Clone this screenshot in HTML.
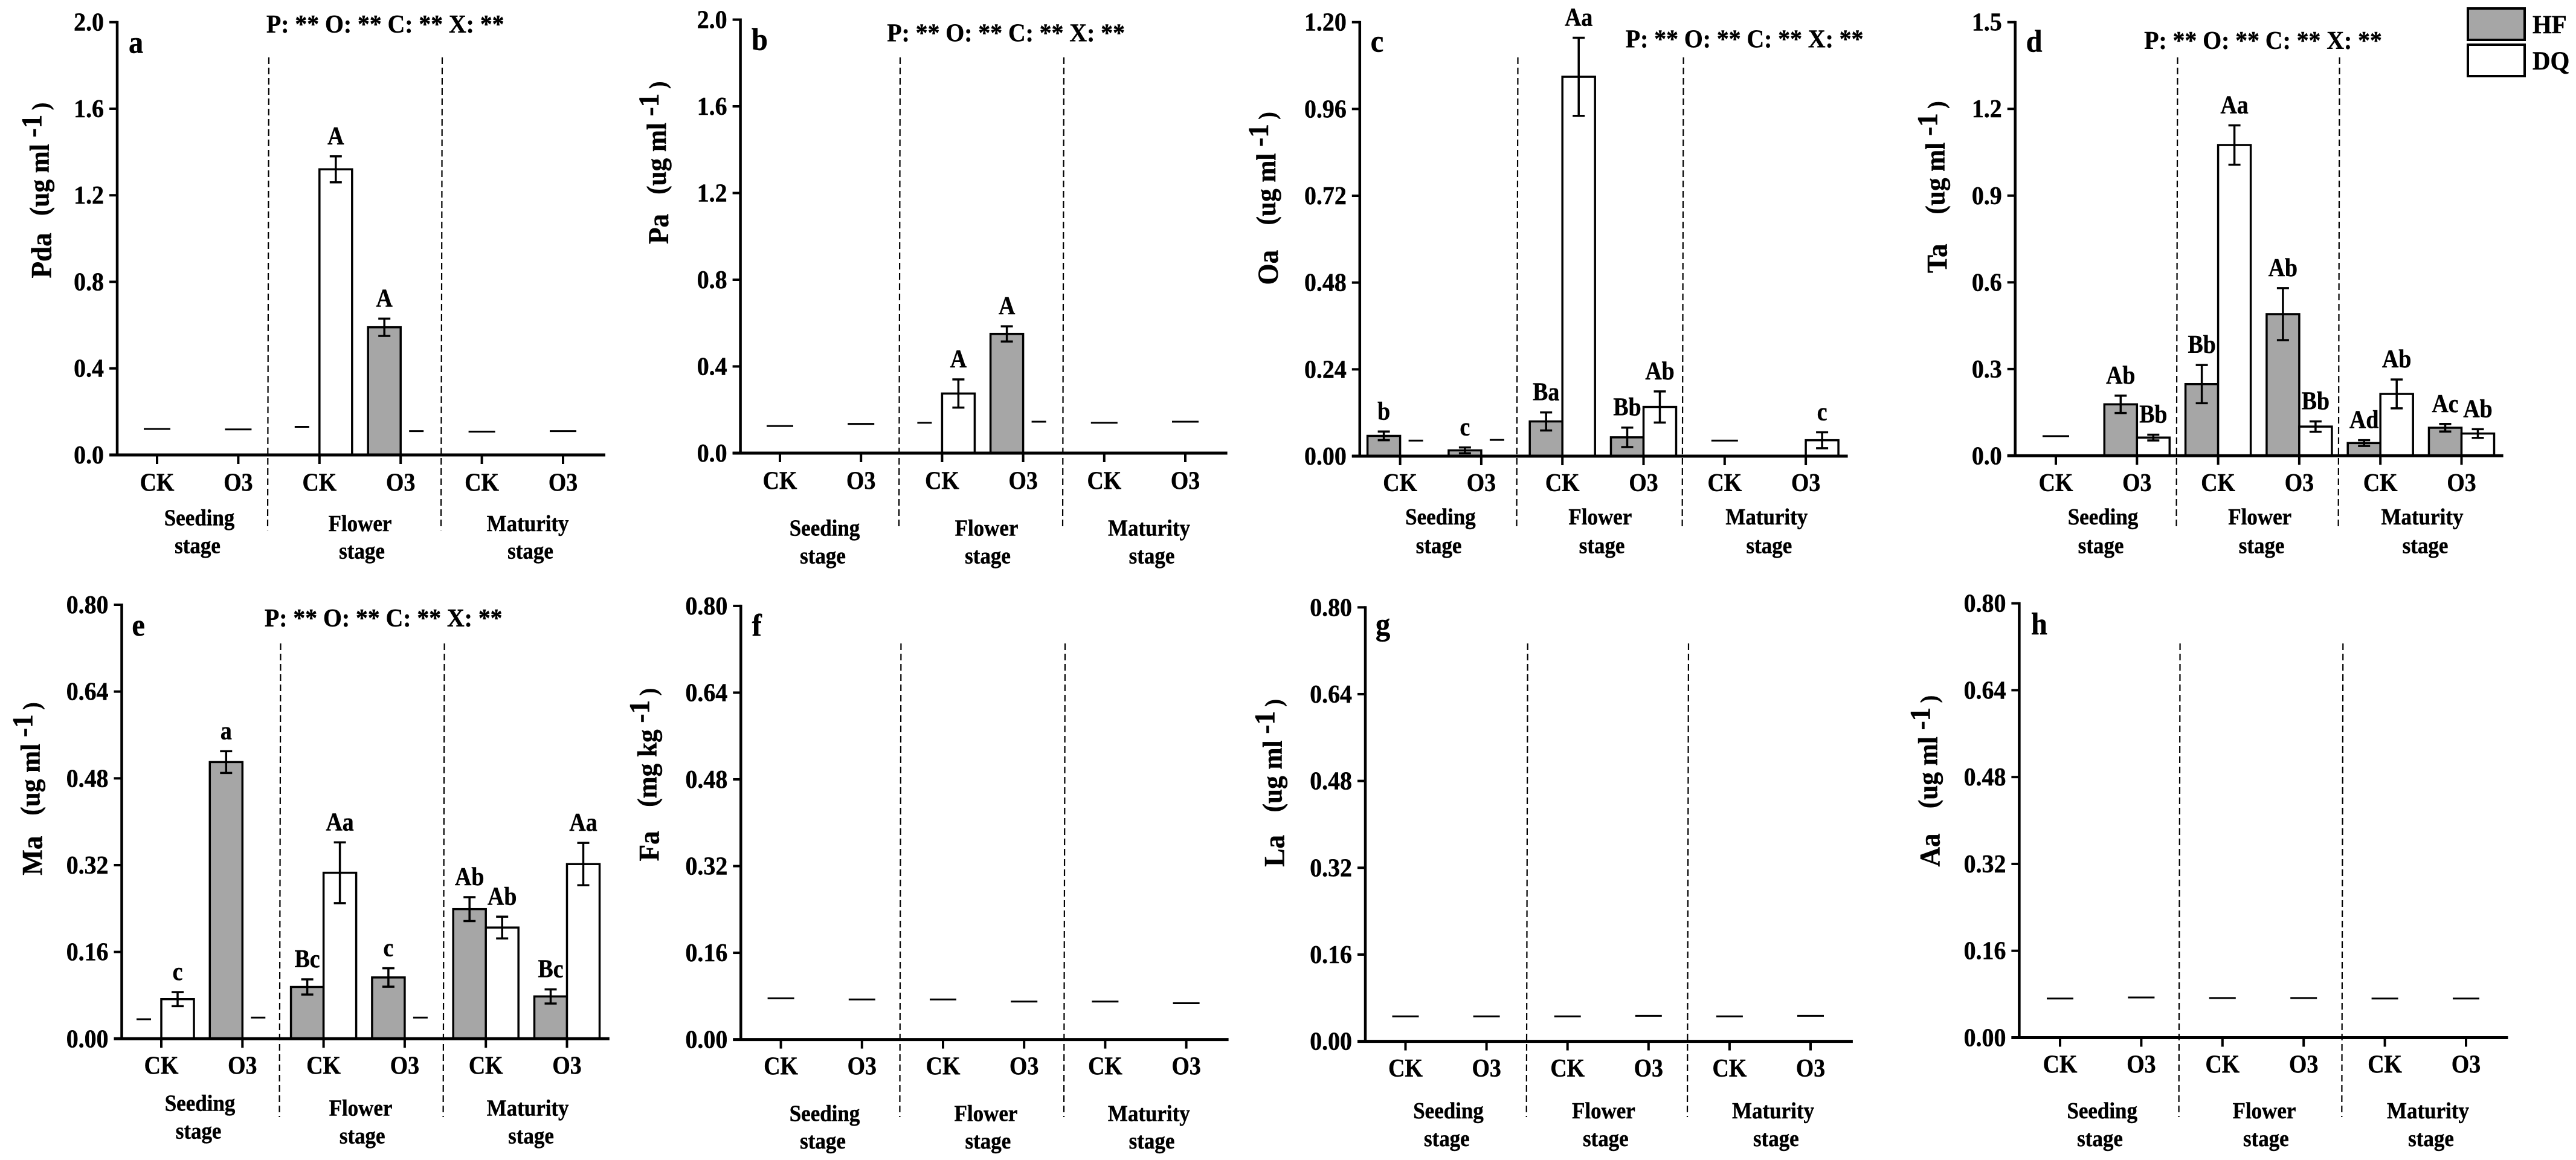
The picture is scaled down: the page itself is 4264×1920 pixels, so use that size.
<!DOCTYPE html>
<html lang="en">
<head>
<meta charset="utf-8">
<title>Organic acid concentrations by stage and treatment</title>
<style>
html,body{margin:0;padding:0;background:#fff;}
svg{display:block;}
text{font-family:"Liberation Serif",serif;font-weight:bold;fill:#000;stroke:#000;stroke-width:.5px;}
</style>
</head>
<body>
<svg id="figure" xmlns="http://www.w3.org/2000/svg" width="4264" height="1920" viewBox="0 0 4264 1920">
  <rect x="0" y="0" width="4264" height="1920" fill="#fff"/>
  <g>
    <rect x="4085" y="14" width="94" height="52" fill="#a6a6a6" stroke="#000" stroke-width="4"/>
    <rect x="4085" y="74" width="94" height="52" fill="#fff" stroke="#000" stroke-width="4"/>
    <text transform="translate(4192 55) scale(.95 1)" font-size="43">HF</text>
    <text transform="translate(4192 115) scale(.95 1)" font-size="43">DQ</text>
  </g>
</svg>
<script>
const categories = ['CK','O3','CK','O3','CK','O3'];
const stageNames = ['Seeding','Flower','Maturity'];
const annotationText = 'P: ** O: ** C: ** X: **';

const ticks2 = ['0.0','0.4','0.8','1.2','1.6','2.0'];
const ticks12 = ['0.00','0.24','0.48','0.72','0.96','1.20'];
const ticks15 = ['0.0','0.3','0.6','0.9','1.2','1.5'];
const ticks08 = ['0.00','0.16','0.32','0.48','0.64','0.80'];

const aHf = [null,null,null,0.59,null,null];
const aHfErr = [null,null,null,0.04,null,null];
const aDq = [null,null,1.32,null,null,null];
const aDqErr = [null,null,0.06,null,null,null];
const aHfDash = [null,null,0.13,null,null,null];
const aDqDash = [null,null,null,0.11,null,null];
const aMidDash = [0.12,0.118,null,null,0.108,0.11];
const aHfLabel = [null,null,null,'A',null,null];
const aDqLabel = [null,null,'A',null,null,null];

const bHf = [null,null,null,0.55,null,null];
const bHfErr = [null,null,null,0.035,null,null];
const bDq = [null,null,0.275,null,null,null];
const bDqErr = [null,null,0.065,null,null,null];
const bHfDash = [null,null,0.14,null,null,null];
const bDqDash = [null,null,null,0.145,null,null];
const bMidDash = [0.125,0.135,null,null,0.14,0.145];
const bHfLabel = [null,null,null,'A',null,null];
const bDqLabel = [null,null,'A',null,null,null];

const cHf = [0.056,0.016,0.096,0.052,null,null];
const cHfErr = [0.012,0.008,0.025,0.027,null,null];
const cDq = [null,null,1.049,0.136,null,0.044];
const cDqErr = [null,null,0.108,0.043,null,0.022];
const cHfDash = [null,null,null,null,null,null];
const cDqDash = [0.043,0.045,null,null,null,null];
const cMidDash = [null,null,null,null,0.043,null];
const cHfLabel = ['b','c','Ba','Bb',null,null];
const cDqLabel = [null,null,'Aa','Ab',null,'c'];

const dHf = [null,0.178,0.248,0.49,0.044,0.097];
const dHfErr = [null,0.03,0.066,0.09,0.01,0.013];
const dDq = [null,0.063,1.075,0.101,0.214,0.077];
const dDqErr = [null,0.01,0.068,0.018,0.05,0.015];
const dHfDash = [null,null,null,null,null,null];
const dDqDash = [null,null,null,null,null,null];
const dMidDash = [0.068,null,null,null,null,null];
const dHfLabel = [null,'Ab','Bb','Ab','Ad','Ac'];
const dDqLabel = [null,'Bb','Aa','Bb','Ab','Ab'];

const eHf = [null,0.51,0.0955,0.113,0.239,0.078];
const eHfErr = [null,0.02,0.014,0.017,0.022,0.013];
const eDq = [0.073,null,0.306,null,0.205,0.322];
const eDqErr = [0.013,null,0.056,null,0.02,0.039];
const eHfDash = [0.036,null,null,null,null,null];
const eDqDash = [null,0.039,null,0.039,null,null];
const eMidDash = [null,null,null,null,null,null];
const eHfLabel = [null,'a','Bc','c','Ab','Bc'];
const eDqLabel = ['c',null,'Aa',null,'Ab','Aa'];

const emptySlots = [null,null,null,null,null,null];
const fMidDash = [0.076,0.074,0.074,0.07,0.07,0.067];
const gMidDash = [0.046,0.046,0.046,0.047,0.046,0.047];
const hMidDash = [0.072,0.074,0.073,0.073,0.072,0.072];

const panels = [
 {letter:'a',name:'Pda',unit:'(ug ml ',max:2,yTicks:ticks2,hf:aHf,hfErr:aHfErr,dq:aDq,dqErr:aDqErr,hfDash:aHfDash,dqDash:aDqDash,midDash:aMidDash,hfLabel:aHfLabel,dqLabel:aDqLabel,
  axisX:194,y0:753,yTop:36.7,x0:260,dx:134.4,right:1002,div:[445,732],divTop:95,divBot:877.5,letterPos:[213,87.6],annot:[441,54],titleX:84.5,titleBot:460.5,gap:30,xLab:812.6,
  stageX:[[330,327],[596,599],[873.6,878]],stageY:[[869.6,915.5],[878.8,924.7],[878.8,924.7]]},
 {letter:'b',name:'Pa',unit:'(ug ml ',max:2,yTicks:ticks2,hf:bHf,hfErr:bHfErr,dq:bDq,dqErr:bDqErr,hfDash:bHfDash,dqDash:bDqDash,midDash:bMidDash,hfLabel:bHfLabel,dqLabel:bDqLabel,
  axisX:1225.6,y0:750,yTop:32.5,x0:1291,dx:134.2,right:2031.6,div:[1490,1761],divTop:95,divBot:877,letterPos:[1244,82.7],annot:[1468.4,68.6],titleX:1106,titleBot:404,gap:34,xLab:809.5,
  stageX:[[1365,1362],[1633,1635],[1902,1906.5]],stageY:[[886.7,932.6],[886.7,932.6],[886.7,932.6]]},
 {letter:'c',name:'Oa',unit:'(ug ml ',max:1.2,yTicks:ticks12,hf:cHf,hfErr:cHfErr,dq:cDq,dqErr:cDqErr,hfDash:cHfDash,dqDash:cDqDash,midDash:cMidDash,hfLabel:cHfLabel,dqLabel:cDqLabel,
  axisX:2250.8,y0:755,yTop:36.7,x0:2317.6,dx:134.3,right:3058.6,div:[2512.5,2786.6],divTop:95,divBot:877,letterPos:[2268.7,85.7],annot:[2690.9,78.4],titleX:2115,titleBot:471.5,gap:44,xLab:813,
  stageX:[[2384.4,2381.6],[2648.8,2651.6],[2924.3,2928.4]],stageY:[[868,915.5],[868,915.5],[868,915.5]]},
 {letter:'d',name:'Ta',unit:'(ug ml ',max:1.5,yTicks:ticks15,hf:dHf,hfErr:dHfErr,dq:dDq,dqErr:dDqErr,hfDash:dHfDash,dqDash:dDqDash,midDash:dMidDash,hfLabel:dHfLabel,dqLabel:dDqLabel,
  axisX:3335.7,y0:754.4,yTop:36.7,x0:3403,dx:134.3,right:4143.6,div:[3604.5,3872.6],divTop:95,divBot:877,letterPos:[3353.6,85.7],annot:[3549.3,80.8],titleX:3222.4,titleBot:452,gap:52,xLab:813,
  stageX:[[3481,3477.6],[3740.7,3743.6],[4009.5,4014.5]],stageY:[[868,915.5],[868,915.5],[868,915.5]]},
 {letter:'e',name:'Ma',unit:'(ug ml ',max:0.8,yTicks:ticks08,hf:eHf,hfErr:eHfErr,dq:eDq,dqErr:eDqErr,hfDash:eHfDash,dqDash:eDqDash,midDash:eMidDash,hfLabel:eHfLabel,dqLabel:eDqLabel,
  axisX:201.5,y0:1719.3,yTop:1001,x0:267,dx:134.3,right:1008.8,div:[464.5,735.6],divTop:1065,divBot:1849,letterPos:[218.4,1051.9],annot:[438,1037],titleX:69.6,titleBot:1448.7,gap:36,xLab:1777.5,
  stageX:[[331,328.6],[597,599.7],[873.6,879]],stageY:[[1838.7,1884.7],[1846.7,1892.6],[1846.7,1892.6]]},
 {letter:'f',name:'Fa',unit:'(mg kg ',max:0.8,yTicks:ticks08,hf:emptySlots,hfErr:emptySlots,dq:emptySlots,dqErr:emptySlots,hfDash:emptySlots,dqDash:emptySlots,midDash:fMidDash,hfLabel:emptySlots,dqLabel:emptySlots,
  axisX:1226.3,y0:1720.6,yTop:1002.9,x0:1292.6,dx:134.2,right:2033.6,div:[1491.4,1763],divTop:1065,divBot:1849,letterPos:[1244.6,1052],annot:null,titleX:1090.4,titleBot:1425.4,gap:42,xLab:1778.7,
  stageX:[[1365,1362],[1632,1635.4],[1901.8,1906.5]],stageY:[[1855.3,1901],[1855.3,1901],[1855.3,1901]]},
 {letter:'g',name:'La',unit:'(ug ml ',max:0.8,yTicks:ticks08,hf:emptySlots,hfErr:emptySlots,dq:emptySlots,dqErr:emptySlots,hfDash:emptySlots,dqDash:emptySlots,midDash:gMidDash,hfLabel:emptySlots,dqLabel:emptySlots,
  axisX:2260,y0:1723.6,yTop:1005.3,x0:2326.5,dx:134.1,right:3066.9,div:[2528.7,2795],divTop:1065,divBot:1849,letterPos:[2277,1050.6],annot:null,titleX:2125.7,titleBot:1434.6,gap:40,xLab:1781.8,
  stageX:[[2397.5,2394.8],[2654.4,2657.8],[2935,2939.8]],stageY:[[1851,1897],[1851,1897],[1851,1897]]},
 {letter:'h',name:'Aa',unit:'(ug ml ',max:0.8,yTicks:ticks08,hf:emptySlots,hfErr:emptySlots,dq:emptySlots,dqErr:emptySlots,hfDash:emptySlots,dqDash:emptySlots,midDash:hMidDash,hfLabel:emptySlots,dqLabel:emptySlots,
  axisX:3342.4,y0:1717.5,yTop:998.6,x0:3410,dx:134.4,right:4151.5,div:[3608.6,3878.3],divTop:1065,divBot:1849,letterPos:[3362,1050],annot:null,titleX:3210.7,titleBot:1434.6,gap:44,xLab:1775.7,
  stageX:[[3479.7,3476],[3748,3750.8],[4019,4024]],stageY:[[1851,1897],[1851,1897],[1851,1897]]}
];

const NS = 'http://www.w3.org/2000/svg';
const BAR_W = 54;

function make(tag, attrs, parent){
  const el = document.createElementNS(NS, tag);
  for (const k in attrs) el.setAttribute(k, attrs[k]);
  parent.appendChild(el);
  return el;
}
function lineAttrs(x1,y1,x2,y2,w){
  return {x1:x1,y1:y1,x2:x2,y2:y2,stroke:'#000','stroke-width':w};
}
function textAttrs(x,y,size,anchor,sx){
  return {transform:'translate('+x+' '+y+') scale('+sx+' 1)','font-size':size,'text-anchor':anchor};
}

function drawBar(g, p, scaleY, slotX, value, series){
  const x = series === 'hf' ? slotX - BAR_W : slotX;
  const el = make('rect',{x:x,y:scaleY(value),width:BAR_W,height:p.y0-scaleY(value),fill:series === 'hf' ? '#a6a6a6' : '#fff',stroke:'#000','stroke-width':3.5},g);
  
  
}
function drawError(g, scaleY, cx, value, err){
  const top = scaleY(value + err), bot = scaleY(value - err);
  const stem = make('line',lineAttrs(cx,top,cx,bot,3.5),g);
  
  
  const capTop = make('line',lineAttrs(cx-10,top,cx+10,top,3.5),g);
  
  
  const capBot = make('line',lineAttrs(cx-10,bot,cx+10,bot,3.5),g);
  
  
}
function drawSigLabel(g, cx, y, txt){
  const el = make('text',textAttrs(cx,y,42,'middle',0.9),g);
  el.textContent = txt;
  
  
}
function drawDash(g, cx, y, halfWidth){
  const el = make('line',lineAttrs(cx-halfWidth,y,cx+halfWidth,y,3),g);
  
  
}

function drawSeries(g, p, scaleY, slotX, i, series, values, errs, labels){
  const sign = series === 'hf' ? -1 : 1;
  const cx = slotX + sign * BAR_W / 2;
  if (values[i] !== null){
    drawBar(g, p, scaleY, slotX, values[i], series);
    const err = errs[i] || 0;
    if (err) drawError(g, scaleY, cx, values[i], err);
    if (labels[i]) drawSigLabel(g, cx, scaleY(values[i] + err) - 20, labels[i]);
  }
}

function drawPanel(p){
  const root = document.getElementById('figure');
  const g = make('g',{},root);
  
  
  const scaleY = v => p.y0 - v / p.max * (p.y0 - p.yTop);
  const scaleX = i => p.x0 + i * p.dx;

  p.div.forEach(dx => {
    const el = make('line',Object.assign(lineAttrs(dx,p.divTop,dx-2,p.divBot,2.2),{'stroke-dasharray':'11 6'}),g);
    
    
  });

  categories.forEach((cat,i) => {
    const tx = scaleX(i);
    drawSeries(g,p,scaleY,tx,i,'hf',p.hf,p.hfErr,p.hfLabel);
    drawSeries(g,p,scaleY,tx,i,'dq',p.dq,p.dqErr,p.dqLabel);
    if (p.hfDash[i] !== null) drawDash(g, tx-29, scaleY(p.hfDash[i]), 12);
    if (p.dqDash[i] !== null) drawDash(g, tx+26, scaleY(p.dqDash[i]), 12);
    if (p.midDash[i] !== null) drawDash(g, tx, scaleY(p.midDash[i]), 22);

    const tick = make('line',lineAttrs(tx,p.y0,tx,p.y0+15,4),g);
    
    
    const lab = make('text',textAttrs(tx,p.xLab,42,'middle',0.9),g);
    lab.textContent = cat;
    
    
  });

  const yAxis = make('line',lineAttrs(p.axisX,p.yTop-2,p.axisX,p.y0+2,4.5),g);
  
  
  const xAxis = make('line',lineAttrs(p.axisX-13,p.y0,p.right,p.y0,5),g);
  
  

  p.yTicks.forEach(t => {
    const y = scaleY(parseFloat(t));
    const tick = make('line',lineAttrs(p.axisX-13,y,p.axisX,y,4),g);
    
    
    const lab = make('text',textAttrs(p.axisX-22,y+14,42,'end',0.95),g);
    lab.textContent = t;
    
    
  });

  stageNames.forEach((s,i) => {
    const a = make('text',textAttrs(p.stageX[i][0],p.stageY[i][0],38,'middle',0.92),g);
    a.textContent = s;
    
    
    const b = make('text',textAttrs(p.stageX[i][1],p.stageY[i][1],38,'middle',0.92),g);
    b.textContent = 'stage';
    
    
  });

  const letter = make('text',textAttrs(p.letterPos[0],p.letterPos[1],52,'start',0.93),g);
  letter.textContent = p.letter;
  
  

  if (p.annot){
    const ann = make('text',textAttrs(p.annot[0],p.annot[1],42,'start',0.945),g);
    ann.textContent = annotationText;
    
    
  }

  const title = make('text',{transform:'translate('+p.titleX+' '+p.titleBot+') rotate(-90) scale(.94 1)','font-size':48},g);
  
  
  const t1 = make('tspan',{},title);
  t1.textContent = p.name;
  const t2 = make('tspan',{dx:p.gap,dy:-4,'font-size':46},title);
  t2.textContent = p.unit;
  const t3 = make('tspan',{dy:-12,'font-size':48},title);
  t3.textContent = '-1';
  const t4 = make('tspan',{dy:12,dx:8,'font-size':40},title);
  t4.textContent = ')';
}

panels.forEach(drawPanel);
</script>
</body>
</html>
